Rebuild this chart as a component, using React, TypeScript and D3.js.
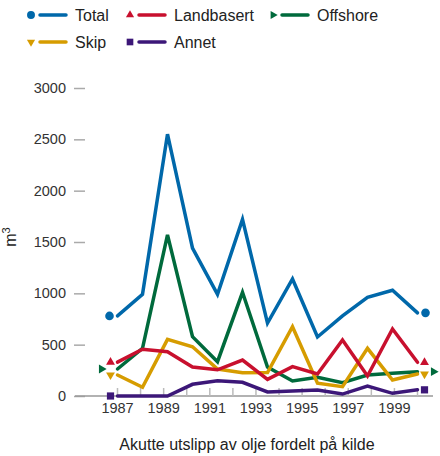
import { useEffect, useRef } from 'react';
import * as d3 from 'd3';

// Values (m3 per year)
const years = [1987, 1988, 1989, 1990, 1991, 1992, 1993, 1994, 1995, 1996, 1997, 1998, 1999];
const total = [780, 990, 2550, 1440, 990, 1720, 710, 1140, 575, 780, 960, 1030, 810];
const landbasert = [330, 455, 432, 282, 255, 350, 162, 286, 214, 545, 195, 653, 328];
const offshore = [263, 464, 1570, 578, 334, 1010, 282, 146, 182, 130, 205, 221, 237];
const skip = [205, 85, 552, 480, 263, 227, 228, 675, 124, 91, 464, 156, 214];
const annet = [0, 0, 0, 114, 149, 133, 40, 48, 58, 19, 97, 26, 60];

const axisYears = [1987, 1988, 1989, 1990, 1991, 1992, 1993, 1994, 1995, 1996, 1997, 1998, 1999, 2000];
const yTicks = [0, 500, 1000, 1500, 2000, 2500, 3000];

const seriesNames = ['Total', 'Landbasert', 'Offshore', 'Skip', 'Annet'];
const seriesValues = [total, landbasert, offshore, skip, annet];
const seriesColors = ['#0068aa', '#c8102e', '#006a3c', '#d69c00', '#3c1778'];

const title = 'Akutte utslipp av olje fordelt på kilde';
const font = '"Liberation Sans", Arial, Helvetica, sans-serif';

// marker per series: symbol, rotation, size, x offset from the line ends
const markers = [
    { type: d3.symbolCircle, rotate: 0, size: 58, offset: 8 },
    { type: d3.symbolTriangle, rotate: 0, size: 34, offset: 7 },
    { type: d3.symbolTriangle, rotate: 90, size: 34, offset: 16 },
    { type: d3.symbolTriangle, rotate: 180, size: 34, offset: 7 },
    { type: d3.symbolSquare, rotate: 0, size: 52, offset: 7 },
];

// legend slots: marker x and row y
const legendX = [31, 130, 273, 31, 130];
const legendY = [15, 15, 15, 42, 42];

const App = () => {
    const ref = useRef<SVGSVGElement>(null);

    useEffect(() => {
        const svg = d3.select(ref.current);
        svg.selectAll('*').remove();

        const x = d3.scalePoint<number>().domain(years).range([117.5, 417.5]);
        const xAxisScale = d3.scalePoint<number>().domain(axisYears).range([117, 417]);
        const y = d3.scaleLinear().domain([0, 3000]).range([396, 88]);

        // y axis (ticks only, no domain line)
        const yAxis = svg.append('g')
            .attr('transform', 'translate(85,0)')
            .call(d3.axisLeft(y).tickValues(yTicks).tickFormat(d3.format('d')).tickSize(11).tickPadding(8));
        yAxis.select('.domain').remove();
        yAxis.selectAll('line').attr('stroke', '#aaa').attr('stroke-width', 1.5);
        yAxis.selectAll('text').attr('fill', '#333').style('font', `14.5px ${font}`);

        // x axis line and upward ticks
        svg.append('line')
            .attr('x1', 75).attr('x2', 433)
            .attr('y1', y(0)).attr('y2', y(0))
            .attr('stroke', '#999').attr('stroke-width', 1.5);

        const xAxis = svg.append('g')
            .attr('transform', `translate(0,${y(0)})`)
            .call(d3.axisBottom(xAxisScale)
                .tickSizeInner(-8).tickSizeOuter(0).tickPadding(6.5)
                .tickFormat(d => (d % 2 === 1 ? String(d) : '')));
        xAxis.select('.domain').remove();
        xAxis.selectAll('line').attr('stroke', '#bbb').attr('stroke-width', 1.5);
        xAxis.selectAll('text').attr('fill', '#333').style('font', `14.5px ${font}`);

        const line = d3.line<number>()
            .x((d, i) => x(years[i]) as number)
            .y(d => y(d));

        const symbolPath = (i: number) => d3.symbol().type(markers[i].type).size(markers[i].size)();

        // draw order: total at the back
        [0, 2, 3, 1, 4].forEach(i => {
            const vals = seriesValues[i];
            svg.append('path')
                .attr('d', line(vals))
                .attr('fill', 'none')
                .attr('stroke', seriesColors[i])
                .attr('stroke-width', 3.5)
                .attr('stroke-linecap', 'round');

            const m = markers[i];
            const first = years[0];
            const last = years[years.length - 1];
            const ends = [
                [(x(first) as number) - m.offset, y(vals[0])],
                [(x(last) as number) + m.offset, y(vals[vals.length - 1])],
            ];
            svg.selectAll(null)
                .data(ends)
                .enter()
                .append('path')
                .attr('d', symbolPath(i))
                .attr('transform', d => `translate(${d[0]},${d[1]}) rotate(${m.rotate})`)
                .attr('fill', seriesColors[i]);
        });

        // legend
        const legend = svg.append('g');
        seriesNames.forEach((name, i) => {
            const lx = legendX[i];
            const ly = legendY[i];
            legend.append('path')
                .attr('d', d3.symbol().type(markers[i].type).size(markers[i].size * 0.85)())
                .attr('transform', `translate(${lx},${ly}) rotate(${markers[i].rotate})`)
                .attr('fill', seriesColors[i]);
            legend.append('line')
                .attr('x1', lx + 9).attr('x2', lx + 35)
                .attr('y1', ly).attr('y2', ly)
                .attr('stroke', seriesColors[i])
                .attr('stroke-width', 3.5)
                .attr('stroke-linecap', 'round');
            legend.append('text')
                .attr('x', lx + 44)
                .attr('y', ly + 5.5)
                .attr('fill', '#222')
                .style('font', `16px ${font}`)
                .text(name);
        });

        // y label m3
        const yLabel = svg.append('text')
            .attr('transform', 'translate(16,237) rotate(-90)')
            .attr('text-anchor', 'middle')
            .attr('fill', '#222')
            .style('font', `16px ${font}`);
        yLabel.append('tspan').text('m');
        yLabel.append('tspan').attr('dy', -6).style('font-size', '11px').text('3');

        // title below chart
        svg.append('text')
            .attr('x', 247)
            .attr('y', 450)
            .attr('text-anchor', 'middle')
            .attr('fill', '#222')
            .style('font', `16px ${font}`)
            .text(title);
    }, []);

    return <svg ref={ref} width={440} height={456} style={{ position: 'absolute', left: 0, top: 0, background: '#fff' }} />;
};

export default App;
